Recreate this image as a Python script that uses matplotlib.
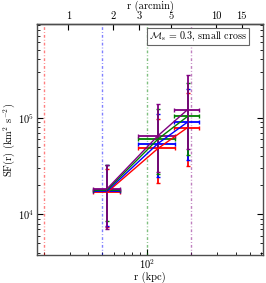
import numpy as np
import matplotlib
matplotlib.use("Agg")
import matplotlib.pyplot as plt
from matplotlib.ticker import NullFormatter, FixedLocator, FixedFormatter

plt.rcParams['font.family'] = 'serif'
plt.rcParams['font.serif'] = ['cmr10', 'DejaVu Serif']
plt.rcParams['mathtext.fontset'] = 'cm'
plt.rcParams['axes.formatter.use_mathtext'] = True
plt.rcParams['font.size'] = 7.5

# ── Data ───────────────────────────────────────────────────────────────────────
kpc_per_arcmin = 29.4

r_kpc = np.array([54, 119, 189])
r_lo = np.array([43, 87, 153])
r_hi = np.array([65.5, 155, 225])

colors = ['red', 'blue', 'green', 'purple']

sf = {
    'red':    np.array([1.70e4, 4.8e4, 7.9e4]),
    'blue':   np.array([1.75e4, 5.4e4, 9.0e4]),
    'green':  np.array([1.80e4, 6.0e4, 1.03e5]),
    'purple': np.array([1.85e4, 6.5e4, 1.21e5]),
}
sf_up = {
    'red':    np.array([2.98e4, 9.8e4, 1.80e5]),
    'blue':   np.array([3.25e4, 1.10e5, 2.00e5]),
    'green':  np.array([3.25e4, 1.23e5, 2.31e5]),
    'purple': np.array([3.27e4, 1.38e5, 2.77e5]),
}
sf_low = {
    'red':    np.array([7.35e3, 2.09e4, 3.2e4]),
    'blue':   np.array([7.6e3, 2.42e4, 3.63e4]),
    'green':  np.array([8.5e3, 2.63e4, 4.1e4]),
    'purple': np.array([7.0e3, 2.73e4, 4.79e4]),
}

# scale markers (kpc)
scale_r = [20, 50, 100, 200]

arcmin_ticks = [1, 2, 3, 5, 10, 15]

# ── Plot ───────────────────────────────────────────────────────────────────────
fig = plt.figure(figsize=(2.66, 2.83), dpi=100)
ax = fig.add_axes([0.139, 0.099, 0.850, 0.816])

for r, c in zip(scale_r, colors):
    ax.axvline(r, color=c, ls=(0, (2, 1.5, 0.6, 1.5)), lw=1, alpha=0.5)

for c in colors:
    y = sf[c]
    yerr = [y - sf_low[c], sf_up[c] - y]
    xerr = [r_kpc - r_lo, r_hi - r_kpc]
    ax.errorbar(r_kpc, y, yerr=yerr, xerr=xerr, color=c, lw=1, elinewidth=1.3,
                capsize=1.6, capthick=1.0)

ax.set_xscale('log')
ax.set_yscale('log')
ax.set_xlim(18, 615)
ax.set_ylim(3.8e3, 9.3e5)

for s in ax.spines.values():
    s.set_linewidth(1.0)
    s.set_color('0.3')

ax.tick_params(which='both', direction='in', top=False, right=True, pad=2)
ax.tick_params(which='major', length=4, width=0.8)
ax.tick_params(which='minor', length=2, width=0.6)
ax.xaxis.set_minor_formatter(NullFormatter())

ax.set_xlabel('r (kpc)', labelpad=0)
ax.set_ylabel(r'SF(r) (km$^2$ s$^{-2}$)', labelpad=1)

secax = ax.secondary_xaxis('top', functions=(lambda x: x / kpc_per_arcmin,
                                            lambda x: x * kpc_per_arcmin))
secax.xaxis.set_major_locator(FixedLocator(arcmin_ticks))
secax.xaxis.set_major_formatter(FixedFormatter([str(t) for t in arcmin_ticks]))
secax.xaxis.set_minor_locator(FixedLocator([]))
secax.tick_params(direction='in', length=4, width=0.8, pad=2)
secax.spines['top'].set_linewidth(1.0)
secax.spines['top'].set_color('0.3')
secax.set_xlabel('r (arcmin)', labelpad=2)

ax.text(0.93, 0.975, r'$\mathcal{M}_{\rm s}\, =\, 0.3$, small cross',
        transform=ax.transAxes, ha='right', va='top', fontsize=7.2,
        bbox=dict(boxstyle='square,pad=0.2', fc='white', ec='0.4', lw=0.8))

fig.savefig('out.png', dpi=100)
